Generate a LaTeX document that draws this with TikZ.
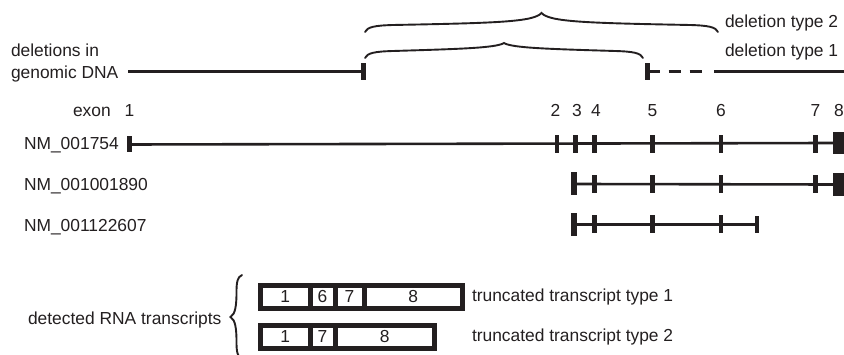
\documentclass[tikz,border=0pt]{standalone}
\usepackage{fontspec}
\setmainfont{Liberation Sans}
\definecolor{ink}{RGB}{35,31,32}
% horizontal curly brace opening downwards: x1, x2, y of the ends, height of the tip
\newcommand\hcurly[4]{%
  \draw[curly] (#1,#3)
    .. controls ({#1+2},{#3-5}) and ({#1+10},{#3-6.5}) .. ({#1+28},{#3-7})
    .. controls ({(#1+#2)/2-45},{#3-9}) and ({(#1+#2)/2-8},{#3-10}) .. ({(#1+#2)/2},{#3-#4})
    .. controls ({(#1+#2)/2+8},{#3-10}) and ({(#1+#2)/2+45},{#3-9}) .. ({#2-28},{#3-7})
    .. controls ({#2-10},{#3-6.5}) and ({#2-2},{#3-5}) .. (#2,#3);}
\begin{document}
\begin{tikzpicture}[x=1pt,y=-1pt,
  every node/.style={inner sep=0pt, outer sep=0pt, text=ink},
  txt/.style={font=\fontsize{17.4}{20}\selectfont},
  lbl/.style={txt, anchor=base west},
  num/.style={txt, anchor=base},
  strand/.style={draw=ink, line width=2.6pt},
  tick/.style={fill=ink, minimum width=4.5pt, minimum height=18pt},
  capbar/.style={fill=ink, minimum width=6pt, minimum height=23pt},
  endblock/.style={fill=ink, minimum width=16pt, minimum height=22.5pt, anchor=west},
  seg/.style={draw=ink, line width=5pt, minimum height=23pt, anchor=west, txt},
  curly/.style={draw=ink, line width=1.9pt, line cap=round},
]
\useasboundingbox (0,0) rectangle (844,355);

% ---------- genomic DNA with the two deletions ----------
\node[lbl] (dl1) at (11,57) {deletions in};
\node[lbl] (dl2) at (11,79) {genomic DNA};
\coordinate (g0) at (128,71.5);
\node[tick, minimum height=17pt] (gL) at (363.5,71.5) {};
\node[tick, minimum height=17pt] (gR) at (647.5,71.5) {};
\coordinate (gd) at (703,71.5);
\coordinate (gs) at (714,71.5);
\coordinate (gE) at (850,71.5);
\draw[strand] (g0) -- (gL.center);
\draw[strand, dash pattern=on 12pt off 9pt] (gR.center) -- (gd);
\draw[strand] (gs) -- (gE);

\hcurly{365}{718}{32}{19}
\hcurly{365}{643}{58}{15}
\node[lbl] (dt2) at (725,28) {deletion type 2};
\node[lbl] (dt1) at (725,57) {deletion type 1};

% ---------- exon numbering ----------
\node[lbl] (exon) at (73,117) {exon};
\node[num] (n1) at (129.5,117) {1};
\node[num] (n2) at (555.5,117) {2};
\node[num] (n3) at (577,117) {3};
\node[num] (n4) at (596,117) {4};
\node[num] (n5) at (652.5,117) {5};
\node[num] (n6) at (721,117) {6};
\node[num] (n7) at (815.5,117) {7};
\node[num] (n8) at (839,117) {8};

% ---------- NM_001754 ----------
\node[lbl] (t1) at (24,150) {NM\_001754};
\node[tick, minimum width=5pt, minimum height=16pt] (a1) at (129.5,144.5) {};
\node[tick] (a2) at (557,144) {};
\node[tick] (a3) at (575.5,144) {};
\node[tick] (a4) at (594.5,144) {};
\node[tick] (a5) at (652.5,144) {};
\node[tick] (a6) at (721,144) {};
\node[tick] (a7) at (815.5,144) {};
\node[endblock] (a8) at (833,143) {};
\draw[strand] (a1.center) -- (a8.west);

% ---------- NM_001001890 ----------
\node[lbl] (t2) at (24,191) {NM\_001001890};
\node[capbar] (b3) at (574,184) {};
\node[tick] (b4) at (594.5,184) {};
\node[tick] (b5) at (652.5,184) {};
\node[tick] (b6) at (721,184) {};
\node[tick] (b7) at (815.5,184) {};
\node[endblock] (b8) at (833,184.5) {};
\draw[strand] (b3.center) -- (b8.west);

% ---------- NM_001122607 ----------
\node[lbl] (t3) at (24,232) {NM\_001122607};
\node[capbar] (c3) at (574,224.5) {};
\node[tick] (c4) at (594.5,224.5) {};
\node[tick] (c5) at (652.5,224.5) {};
\node[tick] (c6) at (721,224.5) {};
\node[tick, minimum height=17pt] (c7) at (757,224.5) {};
\draw[strand] (c3.center) -- (c7.center);

% ---------- detected RNA transcripts ----------
\node[lbl] (rna) at (28,325) {detected RNA transcripts};
\draw[curly] (242,275) .. controls (237.5,277) and (236.5,282) .. (236.5,292)
  .. controls (236.5,305) and (235.5,314) .. (230.5,317)
  .. controls (235.5,320) and (236.5,329) .. (236.5,342)
  .. controls (236.5,352) and (237.5,357) .. (242,359);

\node[seg, minimum width=49.5pt] (r1a) at (260.5,297) {1};
\node[seg, minimum width=25pt] (r1b) at (r1a.east) {6};
\node[seg, minimum width=29pt] (r1c) at (r1b.east) {7};
\node[seg, minimum width=98.5pt] (r1d) at (r1c.east) {8};
\node[lbl] (tt1) at (472,302) {truncated transcript type 1};

\node[seg, minimum width=49.5pt] (r2a) at (260.5,337) {1};
\node[seg, minimum width=25pt] (r2b) at (r2a.east) {7};
\node[seg, minimum width=99.5pt] (r2c) at (r2b.east) {8};
\node[lbl] (tt2) at (472,342) {truncated transcript type 2};
\end{tikzpicture}
\end{document}
